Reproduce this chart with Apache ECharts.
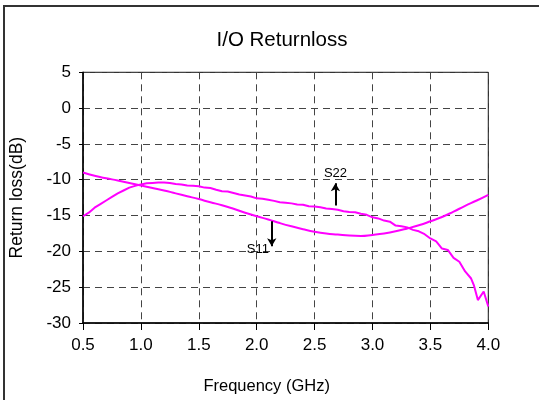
<!DOCTYPE html>
<html>
<head>
<meta charset="utf-8">
<script src="https://cdn.jsdelivr.net/npm/echarts@6/dist/echarts.min.js"></script>
<style>
  html, body { margin: 0; padding: 0; background: #fff; }
  #chart { width: 539px; height: 400px; }
</style>
</head>
<body>
<div id="chart"></div>
<script>
// frequency (GHz) / return loss (dB)
const s11Freq = [0.5, 0.6, 0.7, 0.8, 0.9, 1.0, 1.1, 1.2, 1.3, 1.4, 1.5, 1.6, 1.7, 1.8, 1.9, 2.0,
  2.1, 2.2, 2.3, 2.4, 2.5, 2.6, 2.7, 2.8, 2.9, 3.0, 3.1, 3.2, 3.3, 3.4, 3.5, 3.6, 3.7, 3.8, 3.9, 4.0];
const s11Loss = [-9.0, -9.45, -9.8, -10.1, -10.45, -10.8, -11.15, -11.5, -11.9, -12.3, -12.7, -13.15,
  -13.55, -14.05, -14.6, -15.1, -15.55, -16.05, -16.5, -16.9, -17.25, -17.5, -17.65, -17.8, -17.85,
  -17.7, -17.5, -17.2, -16.8, -16.35, -15.8, -15.2, -14.45, -13.65, -12.9, -12.1];

const s22Freq = [0.5, 0.55, 0.6, 0.65, 0.7, 0.75, 0.8, 0.85, 0.9, 0.95, 1.0, 1.05, 1.1, 1.15, 1.2,
  1.25, 1.3, 1.35, 1.4, 1.45, 1.5, 1.55, 1.6, 1.65, 1.7, 1.75, 1.8, 1.85, 1.9, 1.95, 2.0, 2.05, 2.1,
  2.15, 2.2, 2.25, 2.3, 2.35, 2.4, 2.45, 2.5, 2.55, 2.6, 2.65, 2.7, 2.75, 2.8, 2.85, 2.9, 2.95, 3.0,
  3.05, 3.1, 3.15, 3.2, 3.25, 3.3, 3.35, 3.4, 3.45, 3.5, 3.55, 3.6, 3.65, 3.7, 3.75, 3.8, 3.85,
  3.875, 3.91, 3.96, 4.0];
const s22Loss = [-15.1, -14.6, -13.9, -13.4, -12.9, -12.4, -11.9, -11.5, -11.1, -10.85, -10.65,
  -10.5, -10.45, -10.4, -10.4, -10.45, -10.6, -10.65, -10.8, -10.85, -10.9, -11.1, -11.15, -11.4,
  -11.6, -11.65, -11.85, -12.05, -12.2, -12.35, -12.6, -12.65, -12.8, -12.95, -13.15, -13.2, -13.3,
  -13.45, -13.5, -13.7, -13.75, -13.85, -14.0, -14.1, -14.2, -14.4, -14.5, -14.55, -14.75, -14.9,
  -15.25, -15.4, -15.7, -15.85, -16.4, -16.5, -16.65, -17.0, -17.2, -17.6, -18.2, -18.6, -19.6,
  -19.8, -20.9, -21.45, -22.8, -23.75, -24.7, -26.8, -25.6, -27.7];

const xTicks = [0.5, 1.0, 1.5, 2.0, 2.5, 3.0, 3.5, 4.0];
const yTicks = [5, 0, -5, -10, -15, -20, -25, -30];

const chart = echarts.init(document.getElementById('chart'));
const font = 'Liberation Sans, Arial, sans-serif';
const dashed = { type: [7, 5], color: '#444', width: 1 };

const option = {
  animation: false,
  title: {
    text: 'I/O Returnloss',
    left: 277, top: 25, textAlign: 'center',
    textStyle: { fontFamily: font, fontSize: 20.5, fontWeight: 'normal', color: '#000' }
  },
  graphic: [{
    type: 'rect', shape: { x: 4, y: 6, width: 700, height: 600 },
    style: { fill: 'none', stroke: '#333', lineWidth: 2 }, silent: true
  }],
  grid: {
    left: 80.7, right: 50.7, top: 72.3, bottom: 75,
    show: true, borderColor: '#000', borderWidth: 1
  },
  xAxis: {
    type: 'value', min: 0.5, max: 4.0, interval: 0.5,
    name: 'Frequency (GHz)', nameLocation: 'middle', nameGap: 55,
    nameTextStyle: { fontFamily: font, fontSize: 16.5, color: '#000', padding: [0, 38, 0, 0] },
    axisLine: { onZero: false, lineStyle: { color: '#000', width: 1.5 } },
    axisTick: { show: true, length: 7, lineStyle: { color: '#000' } },
    axisLabel: {
      fontFamily: font, fontSize: 17, color: '#000', margin: 14,
      formatter: v => xTicks.includes(v) ? v.toFixed(1) : ''
    },
    splitLine: { show: true, lineStyle: dashed }
  },
  yAxis: {
    type: 'value', min: -30, max: 5, interval: 5,
    name: 'Return loss(dB)', nameLocation: 'middle', nameGap: 57,
    nameTextStyle: { fontFamily: font, fontSize: 17.5, color: '#000' },
    axisLine: { show: true, onZero: false, lineStyle: { color: '#000', width: 1.5 } },
    axisTick: { show: true, length: 4, lineStyle: { color: '#000' } },
    axisLabel: {
      fontFamily: font, fontSize: 17, color: '#000', margin: 12,
      formatter: v => yTicks.includes(v) ? String(v) : ''
    },
    splitLine: { show: true, lineStyle: dashed }
  },
  series: [
    {
      name: 'S11', type: 'line', showSymbol: false, smooth: true,
      data: s11Freq.map((f, i) => [f, s11Loss[i]]),
      lineStyle: { color: '#ff00ff', width: 2 },
      markLine: {
        silent: true, symbol: ['none', 'arrow'], symbolSize: [7, 8],
        lineStyle: { color: '#000', width: 2, type: 'solid' },
        label: { show: false },
        data: [[{ coord: [2.13, -15.8] }, { coord: [2.13, -19.3] }]]
      },
      markPoint: {
        symbol: 'circle', symbolSize: 0, silent: true,
        label: { show: true, formatter: 'S11', fontFamily: font, fontSize: 13, color: '#000' },
        data: [{ coord: [2.01, -19.7] }]
      }
    },
    {
      name: 'S22', type: 'line', showSymbol: false,
      data: s22Freq.map((f, i) => [f, s22Loss[i]]),
      lineStyle: { color: '#ff00ff', width: 2 },
      markLine: {
        silent: true, symbol: ['none', 'arrow'], symbolSize: [7, 8],
        lineStyle: { color: '#000', width: 2, type: 'solid' },
        label: { show: false },
        data: [[{ coord: [2.68, -13.6] }, { coord: [2.68, -10.5] }]]
      },
      markPoint: {
        symbol: 'circle', symbolSize: 0, silent: true,
        label: { show: true, formatter: 'S22', fontFamily: font, fontSize: 13, color: '#000' },
        data: [{ coord: [2.68, -9.1] }]
      }
    }
  ]
};
chart.setOption(option);
</script>
</body>
</html>
